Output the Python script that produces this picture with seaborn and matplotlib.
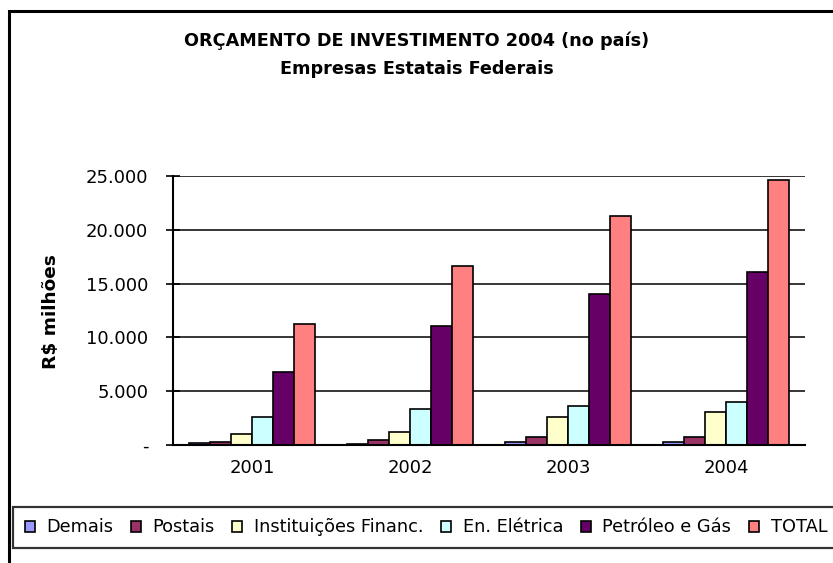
import seaborn as sns
import matplotlib.pyplot as plt
import matplotlib.patches as mpatches
import pandas as pd

# Investment budget by sector (R$ milhões)
anos = ['2001', '2002', '2003', '2004']
setores = ['Demais', 'Postais', 'Instituições Financ.', 'En. Elétrica', 'Petróleo e Gás', 'TOTAL']
demais = [150, 120, 310, 310]
postais = [300, 500, 710, 710]
inst_financ = [1050, 1230, 2560, 3090]
en_eletrica = [2560, 3300, 3670, 4040]
petroleo_gas = [6820, 11080, 14040, 16080]
total = [11270, 16600, 21260, 24600]
cores = ['#9999FF', '#993366', '#FFFFCC', '#CCFFFF', '#660066', '#FF8080']

series = [demais, postais, inst_financ, en_eletrica, petroleo_gas, total]
rows = []
for setor, vals in zip(setores, series):
    for ano, v in zip(anos, vals):
        rows.append({'Ano': ano, 'Setor': setor, 'Valor': v})
df = pd.DataFrame(rows)

sns.set_style('white')
plt.rcParams['font.family'] = ['DejaVu Sans']
for k in ['text.color', 'axes.labelcolor', 'xtick.color', 'ytick.color']:
    plt.rcParams[k] = 'black'

fig = plt.figure(figsize=(8.33, 5.63), dpi=100)
ax = fig.add_axes([173 / 833, 1 - 445 / 563, 632 / 833, 269 / 563])

sns.barplot(data=df, x='Ano', y='Valor', hue='Setor', hue_order=setores,
            palette=cores, saturation=1, edgecolor='black', linewidth=1.2,
            width=0.8, ax=ax)

ax.set_ylim(0, 25000)
ax.set_xlim(-0.5, 3.5)
ax.set_yticks(range(0, 25001, 5000))
ax.set_yticklabels(['-'] + [f'{v:,}'.replace(',', '.') for v in range(5000, 25001, 5000)],
                   fontsize=13)
ax.yaxis.grid(True, color='black', linewidth=1.1)
ax.set_axisbelow(True)
ax.set_xticks([0, 1, 2, 3])
ax.set_xticklabels(anos, fontsize=13)
ax.set_xticks([-0.5, 0.5, 1.5, 2.5, 3.5], minor=True)
ax.tick_params(axis='x', which='major', length=0, pad=10)
ax.tick_params(axis='x', which='minor', direction='out', length=5, width=1.2, color='black')
ax.tick_params(axis='y', direction='inout', length=9.5, width=1.2, color='black',
               left=True, pad=13)
for s in ['top', 'right']:
    ax.spines[s].set_visible(False)
for s in ['left', 'bottom']:
    ax.spines[s].set_color('black')
    ax.spines[s].set_linewidth(1.5)
ax.set_xlabel('')
ax.set_ylabel('')

fig.text(51 / 833, 1 - 312 / 563, 'R$ milhões', rotation=90, ha='center', va='center',
         fontsize=13.3, fontweight='bold')
fig.text(0.5, 1 - 46 / 563, 'ORÇAMENTO DE INVESTIMENTO 2004 (no país)', ha='center',
         va='baseline', fontsize=12.7, fontweight='bold')
fig.text(0.5, 1 - 74 / 563, 'Empresas Estatais Federais', ha='center',
         va='baseline', fontsize=12.7, fontweight='bold')

# outer chart border
fig.patches.append(mpatches.Rectangle((9 / 833, -0.1), 1.2, 1 - 11 / 563 + 0.1,
                                      transform=fig.transFigure, fill=False,
                                      edgecolor='black', linewidth=2.2))

handles, labels = ax.get_legend_handles_labels()
ax.legend_.remove()
leg = fig.legend(handles, labels, loc='lower left', bbox_to_anchor=(13 / 833, 1 - 548 / 563),
                 ncol=6, fontsize=12.8, frameon=True, fancybox=False, edgecolor='black',
                 handlelength=0.56, handleheight=0.56, handletextpad=0.65, columnspacing=1.0,
                 borderpad=0.65, borderaxespad=0)
leg.get_frame().set_linewidth(1.6)

fig.savefig('out.png', dpi=100)
